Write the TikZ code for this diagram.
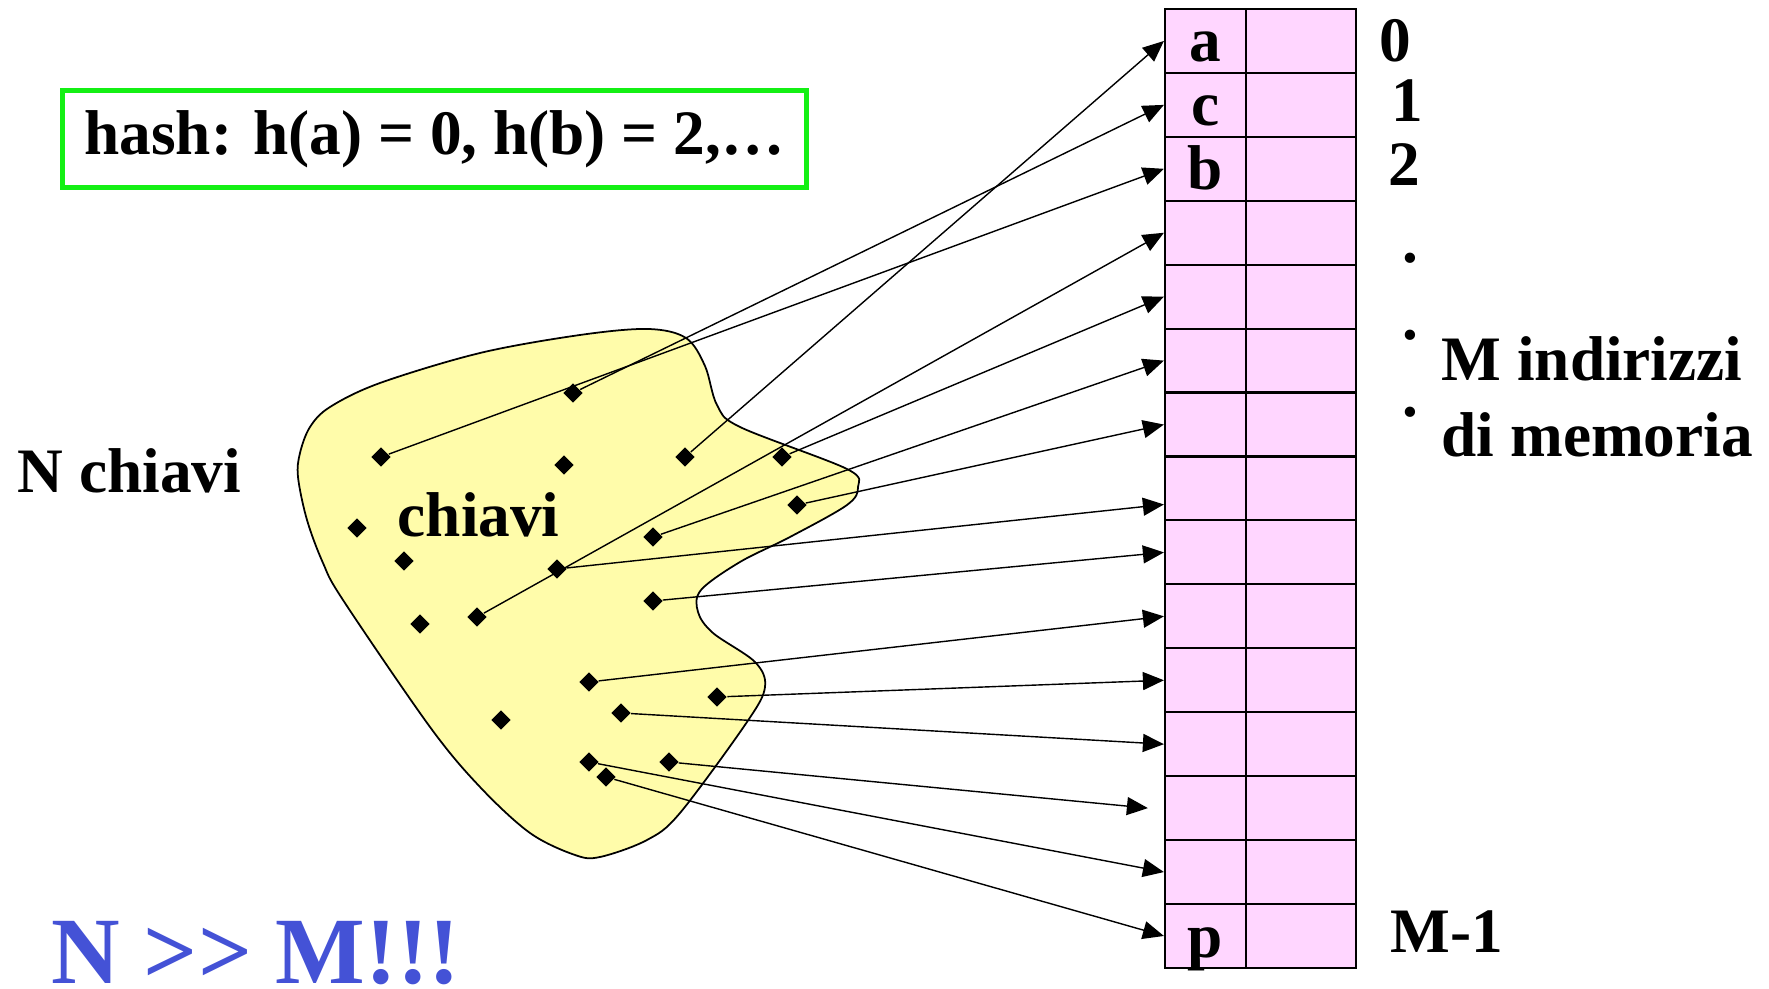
\documentclass[tikz,border=0pt]{standalone}
\usepackage{fontspec}
\setmainfont{Liberation Serif}
\usetikzlibrary{arrows.meta,shapes.geometric,calc}

\definecolor{cellpink}{RGB}{255,214,255}
\definecolor{setyellow}{RGB}{255,252,170}
\definecolor{hashgreen}{RGB}{20,240,20}
\definecolor{ratioblue}{RGB}{68,82,214}

\begin{document}
\begin{tikzpicture}[
  x=0.01cm, y=-0.01cm,
  >={Triangle[length=0.21cm,width=0.18cm]},
  font=\bfseries\fontsize{18}{21}\selectfont,
  keydot/.style={diamond, fill=black, inner sep=0pt, minimum size=0.2cm},
  slot/.style={
    draw,
    line width=0.6pt,
    fill=cellpink,
    inner sep=0pt,
    minimum width=0.81cm,
    minimum height=0.6393cm,
    text height=0.53cm,
    text depth=0.1093cm
  },
  txt/.style={anchor=base west, inner sep=0pt},
  link/.style={->, line width=0.4pt}
]
  \useasboundingbox (0,0) rectangle (1769,989);

  % insieme delle chiavi
  \draw[fill=setyellow, line width=0.5pt] plot[smooth cycle, tension=0.55] coordinates {
    (298,477) (300,453) (310,427) (330,407) (380,383) (480,353) (580,335)
    (648,329) (686,338) (705,366) (717,405) (740,427) (847,469) (858,487)
    (847,505) (790,537) (740,562) (701,590) (698,612) (713,633) (755,662)
    (765,687) (747,722) (680,813) (647,840) (600,857) (575,855) (530,833)
    (480,787) (430,727) (343,600) (323,563) (307,520)};

  \foreach \n/\x/\y in {1/381/457, 2/573/393, 3/564/465, 4/685/457, 5/782/457,
      6/797/505, 7/357/528, 8/404/561, 9/653/537, 10/557/569, 11/477/617,
      12/420/624, 13/653/601, 14/589/682, 15/717/697, 16/621/713, 17/501/720,
      18/589/762, 19/669/762, 20/606/777}
    \node[keydot] (k\n) at (\x,\y) {};

  % tabella
  \foreach \t [count=\i from 0] in {a,c,b,{},{},{},{},{},{},{},{},{},{},{},p} {
    \node[slot] (c\i) at (1205.5,{9+63.93*(\i+0.5)}) {\t};
    \node[slot, minimum width=1.1cm] (v\i) at (1301,{9+63.93*(\i+0.5)}) {};
  }

  \node[
    draw=hashgreen,
    line width=0.05cm,
    minimum width=7.44cm,
    minimum height=0.97cm
  ] (hash) at (434.5,139) {hash: h(a) = 0, h(b) = 2,…};

  \node[txt] (nkeys) at (17,493) {N chiavi};
  \node[txt] (keys) at (397,537) {chiavi};
  \node[txt] (i0) at (1379,62) {0};
  \node[txt] (i1) at (1391,122) {1};
  \node[txt] (i2) at (1388,186) {2};
  \foreach \y [count=\j] in {263,340,417}
    \node[anchor=base, inner sep=0pt] (dot\j) at (1410,\y) {.};
  \node[txt] (maddr) at (1441,381) {M indirizzi};
  \node[txt] (mmem) at (1441,457) {di memoria};
  \node[txt] (ilast) at (1390,953) {M-1};
  \node[txt, text=ratioblue, font=\bfseries\fontsize{27}{30}\selectfont] (ratio)
    at (51,984) {N >\kern0pt> M!!!};

  % funzione hash
  \foreach \k/\c in {4/0, 2/1, 1/2, 11/3, 5/4, 9/5, 6/6, 13/8, 14/9, 15/10,
      16/11, 18/13, 20/14}
    \draw[link] (k\k) -- (c\c.west);
  \draw[link] (k10) -- ($(c7.west)+(0,16)$);
  \draw[link] (k19) -- ($(c12.west)+(-16,0)$);
\end{tikzpicture}
\end{document}
